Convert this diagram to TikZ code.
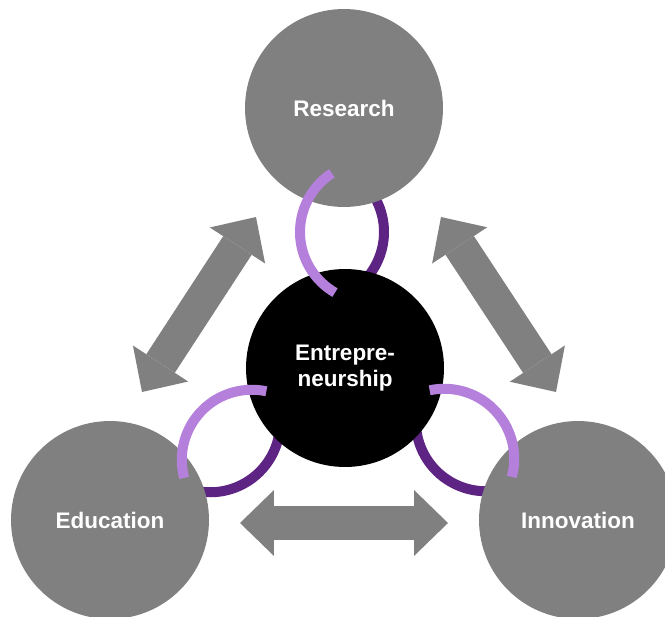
\documentclass[tikz,border=0pt]{standalone}
\usepackage{fontspec}
\setmainfont{Liberation Sans}
\usetikzlibrary{arrows.meta}
\definecolor{pillargray}{RGB}{128,128,128}
\definecolor{linkdark}{RGB}{93,36,132}
\definecolor{linklight}{RGB}{180,128,220}
\tikzstyle{pillar}=[circle, fill=pillargray, minimum size=3.96cm, inner sep=0pt, text=white, font=\bfseries\fontsize{12.8}{15}\selectfont, align=center]
\tikzstyle{hub}=[pillar, fill=black]
\tikzstyle{exchange}=[pillargray, line width=0.68cm, {Triangle[width=1.32cm, length=0.68cm, line width=0pt]}-{Triangle[width=1.32cm, length=0.68cm, line width=0pt]}]
\tikzstyle{linkback}=[linkdark, line width=0.2cm]
\tikzstyle{linkfront}=[linklight, line width=0.2cm]

\begin{document}
\begin{tikzpicture}[x=0.02cm, y=0.02cm]
    \clip (0,0) rectangle (665,616);
    % back halves of the chain links
    \foreach \rot/\flip/\cx/\cy in {0/1/342/384, 138/-1/231/175, -138/1/465/176}
        \draw[linkback, shift={(\cx,\cy)}, rotate=\rot, xscale=\flip] (-28,0) ++(-66:1.4cm) arc[start angle=-66, end angle=66, radius=1.4cm];
    % double arrows
    \coordinate (lefttop) at (256,399);
    \coordinate (leftbot) at (142,224);
    \coordinate (righttop) at (441,399);
    \coordinate (rightbot) at (556,224);
    \coordinate (botleft) at (240,93);
    \coordinate (botright) at (448,93);
    \draw[exchange] (lefttop) -- (leftbot);
    \draw[exchange] (righttop) -- (rightbot);
    \draw[exchange] (botleft) -- (botright);
    % circles
    \node[pillar] (research) at (344,508) {Research};
    \node[pillar] (education) at (110,96) {Education};
    \node[pillar] (innovation) at (578,96) {Innovation};
    \node[hub] (entre) at (345,248) {Entrepre-\\neurship};
    % front halves of the chain links
    \foreach \rot/\flip/\cx/\cy in {0/1/342/384, 138/-1/231/175, -138/1/465/176}
        \draw[linkfront, shift={(\cx,\cy)}, rotate=\rot, xscale=\flip] (28,0) ++(123:1.4cm) arc[start angle=123, end angle=240, radius=1.4cm];
\end{tikzpicture}
\end{document}
